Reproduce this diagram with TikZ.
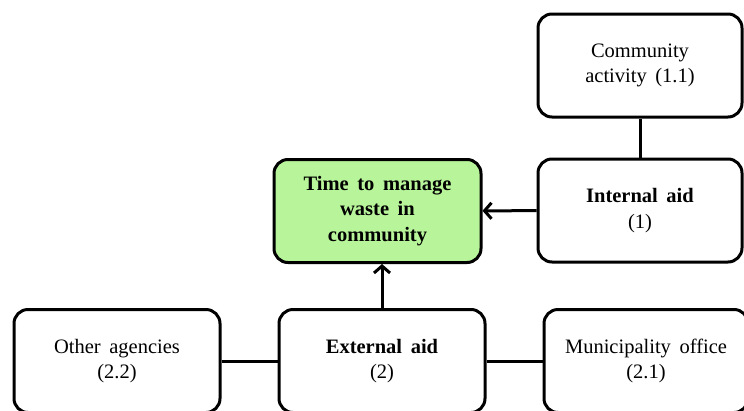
\documentclass[tikz,border=0pt]{standalone}
\usepackage{fontspec}
\setmainfont{Liberation Serif}
\usetikzlibrary{arrows.meta}
\definecolor{goalgreen}{RGB}{184,245,154}
\newcommand{\boxfont}{\fontsize{20.5}{25.5}\selectfont\spaceskip 0.42em\relax}

\begin{document}
\begin{tikzpicture}[x=1pt,y=-1pt,line width=3pt,>={Straight Barb[length=7pt,width=16pt]}]
	\tikzset{box/.style={draw, rounded corners=14pt, minimum width=204pt, minimum height=103pt, align=center, font=\boxfont}}
	\useasboundingbox (0,0) rectangle (744,410);
	\clip (0,0) rectangle (744,410);
	
	\node [box] (comm) at (640,65.5) {Community\\activity (1.1)};
	\node [box] (internal) at (640,210.5) {\textbf{Internal aid}\\(1)};
	\node [box, fill=goalgreen, minimum width=207pt] (goal) at (377.5,211) {\textbf{Time to manage}\\\textbf{waste in}\\\textbf{community}};
	
	\node [box, minimum width=206pt] (other) at (117,361) {Other agencies\\(2.2)};
	\node [box, minimum width=206pt] (external) at (382,361) {\textbf{External aid}\\(2)};
	\node [box, minimum width=204pt] (muni) at (646,361) {Municipality office\\(2.1)};
	
	\draw (comm) -- (internal);
	\draw [->] (internal) -- (goal);
	\draw [->] (external.north) -- (external.north |- goal.south);
	\draw (other) -- (external);
	\draw (external) -- (muni);
\end{tikzpicture}
\end{document}
